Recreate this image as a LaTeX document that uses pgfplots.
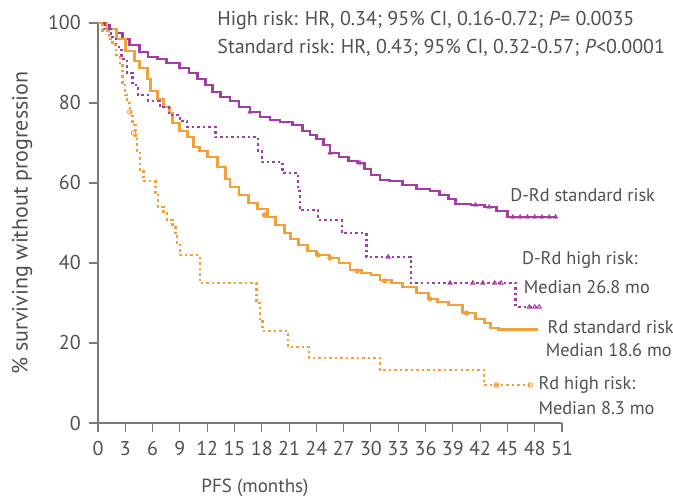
\documentclass[border=0pt]{standalone}
\usepackage{fontspec}
\setmainfont{PT Sans}
\usepackage{pgfplots}
\pgfplotsset{compat=1.18}
\definecolor{drd}{HTML}{A23DA8}
\definecolor{rd}{HTML}{F4A03A}
\definecolor{axgray}{HTML}{7A7A7A}
\definecolor{txt}{HTML}{505050}
\newcommand{\fa}{\fontsize{20bp}{24bp}\selectfont}
\newcommand{\fb}{\fontsize{18.3bp}{22bp}\selectfont}
\newcommand{\ft}{\fontsize{20bp}{24bp}\selectfont}
\begin{document}
\begin{tikzpicture}
\begin{axis}[
  scale only axis, width=464bp, height=400bp,
  xmin=0, xmax=51, ymin=0, ymax=100,
  axis x line=bottom, axis y line=left,
  axis line style={axgray, line width=1.3bp, -},
  xtick={0,3,...,51}, ytick={0,20,...,100},
  tick style={axgray, line width=1.1bp},
  tick align=outside, major tick length=9bp,
  /pgf/number format/assume math mode=true,
  xticklabel style={font=\ft, text=txt, yshift=-9bp, inner sep=0pt},
  yticklabel style={font=\ft, text=txt, xshift=-8bp, inner sep=0pt},
  clip=false,
]
% D-Rd standard risk
\addplot[drd, line width=2.8bp, const plot] coordinates {
(0,100) (0.8,99.5) (1.3,98.5) (2,97.5) (2.7,96) (3.5,94.5) (4.6,92.75) (5.5,91.5) (6.5,91) (7.5,90) (9,88.75) (10,87.5) (10.9,86) (11.8,84.5) (12.6,82.75) (13.5,81.5) (14.5,80.5) (15.5,79) (16.7,77.75) (17.8,76.5) (18.9,75.75) (20,75.25) (21.4,74.5) (22.5,73) (23.3,72) (24,71) (24.8,69.5) (25.5,67.5) (26.5,66.5) (27.5,65.5) (28.5,65) (29.3,63.5) (30,62) (31,60.75) (32,60.5) (33.5,59.5) (35,58.5) (36.5,58) (37.5,57) (38.5,56) (39.3,54.75) (41,54.5) (42.5,54) (43.8,53) (45,51.5) (50.4,51.5)};
% Rd standard risk
\addplot[rd, line width=2.8bp, const plot] coordinates {
(0,100) (1,98.5) (2,96) (3,93) (4,90.5) (4.6,88.75) (5.4,86) (5.8,83) (6.5,81) (7.2,79) (7.9,77.5) (8.2,75) (9,73) (9.8,71.5) (10.5,69) (11.2,68) (12,66.5) (13.1,64) (14,61) (14.5,59) (15.5,57) (16.5,55) (17.5,53.5) (18.6,51.5) (19.5,49.5) (20.5,47.5) (21.2,46) (22,44.5) (23,43) (24,42) (25.5,41.25) (26.5,40) (27.7,38.25) (29,37.5) (30,37) (31,35.75) (32.3,35) (33.5,34) (35,32.5) (36.3,31) (37.3,30.25) (38.5,29.5) (40.1,27.5) (41.5,26) (42.5,25) (43.1,23.75) (44,23.3) (48.4,23.3)};
% D-Rd high risk
\addplot[drd, line width=2.4bp, dash pattern=on 2.5bp off 3bp, const plot] coordinates {
(0,100) (0.7,98.5) (1.4,96.5) (2,94) (2.6,91) (3.2,87.5) (3.8,84.5) (4.4,82) (5.5,80.5) (6.8,79) (7.8,77) (9,75.5) (9.8,74) (12.9,71.5) (17.6,68) (18,65.25) (20.3,62.5) (22,58) (22.2,53.25) (24.2,50.75) (26.8,47.5) (29.5,41.5) (34.4,35) (45.9,29) (48.6,29)};
% Rd high risk
\addplot[rd, line width=2.4bp, dash pattern=on 2.5bp off 3bp, const plot] coordinates {
(0,100) (0.5,98) (1.2,96) (1.6,94.5) (2,92) (2.4,90) (2.7,85) (3,82) (3.2,80) (3.5,77.75) (3.8,74.5) (4.1,71) (4.3,68) (4.6,63) (5,60.5) (6.3,57.5) (6.6,54) (7.2,52.5) (7.6,50.75) (8.2,49) (8.5,47) (8.7,45) (9,42) (11.2,35) (17.4,30) (17.8,26) (18.1,23) (20.9,19) (23.2,16.25) (31,13.25) (42.4,9.5) (47.5,9.5)};
% censor marks
\addplot[drd, only marks, mark=triangle*, mark size=2.6bp] coordinates {
(16.7,77.75) (25.5,67.5) (28.8,65) (41.5,54.5) (43,54) (45.6,51.5) (46.4,51.5) (47.2,51.5) (48,51.5) (48.8,51.5) (49.6,51.5) (50.3,51.5)};
\addplot[drd, only marks, mark=triangle, mark size=2.4bp, mark options={line width=0.9bp}] coordinates {
(31.9,41.5) (38.7,35) (41.2,35) (42.3,35) (43.6,35) (44.3,35) (47.4,29) (48,29) (48.5,29)};
\addplot[rd, only marks, mark=*, mark size=2.4bp] coordinates {
(18.3,52) (24.2,42) (25.5,41.25) (28.5,38) (31.5,35.5) (36.5,31) (40.5,27.5)};
\addplot[rd, only marks, mark=o, mark size=2.3bp, mark options={line width=1bp}] coordinates {
(3.5,77.75) (3.9,72.5) (43.8,9.5) (47.5,9.5)};
% annotations
\node[anchor=west, font=\fa, text=txt, inner sep=0] at (axis cs:13.1,100.75) {High risk: HR, 0.34; 95\% CI, 0.16-0.72; \textit{P}= 0.0035};
\node[anchor=west, font=\fa, text=txt, inner sep=0] at (axis cs:13.1,93.75) {Standard risk: HR, 0.43; 95\% CI, 0.32-0.57; \textit{P}<0.0001};
\node[anchor=west, font=\fb, text=txt, inner sep=0] at (axis cs:45.3,57) {D-Rd standard risk};
\node[anchor=west, font=\fb, text=txt, inner sep=0] at (axis cs:46.6,40.75) {D-Rd high risk:};
\node[anchor=west, font=\fb, text=txt, inner sep=0] at (axis cs:46.8,34) {Median 26.8 mo};
\node[anchor=west, font=\fb, text=txt, inner sep=0] at (axis cs:49.4,24) {Rd standard risk};
\node[anchor=west, font=\fb, text=txt, inner sep=0] at (axis cs:49.2,18.25) {Median 18.6 mo};
\node[anchor=west, font=\fb, text=txt, inner sep=0] at (axis cs:48.4,9.5) {Rd high risk:};
\node[anchor=west, font=\fb, text=txt, inner sep=0] at (axis cs:48.4,3.75) {Median 8.3 mo};
\node[font=\fontsize{19bp}{22bp}\selectfont, text=txt] at (axis cs:17.25,-16.25) {PFS (months)};
\node[font=\fontsize{22bp}{26bp}\selectfont, text=txt, rotate=90] at (axis cs:-8.35,50) {\% surviving without progression};
\end{axis}
\pgfresetboundingbox
\path[use as bounding box] ([xshift=-98bp,yshift=-75bp]current axis.south west) rectangle ([xshift=111bp,yshift=23bp]current axis.north east);
\end{tikzpicture}
\end{document}
